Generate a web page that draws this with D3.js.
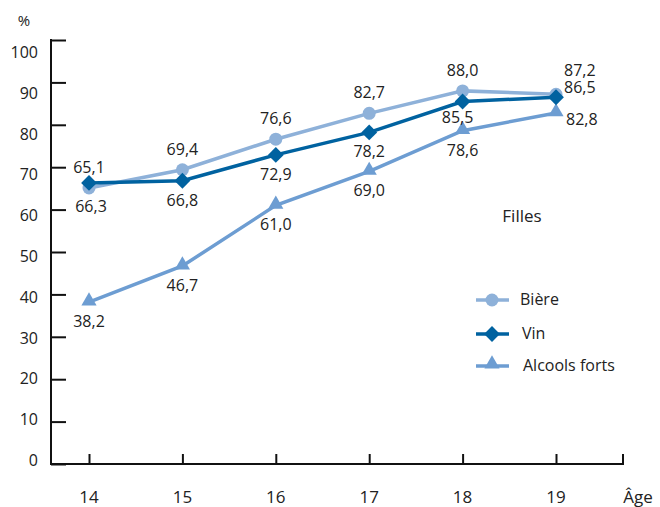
<!DOCTYPE html>
<html><head><meta charset="utf-8">
<script src="https://cdn.jsdelivr.net/npm/d3@7"></script>
<style>body{margin:0;background:#fff}svg{display:block}text{font-family:"Open Sans","Noto Sans",sans-serif;fill:#222}</style>
</head><body><svg id="c" width="660" height="507"></svg>
<script>
const ages = [14, 15, 16, 17, 18, 19];
const biere = [65.1, 69.4, 76.6, 82.7, 88.0, 87.2];
const vin = [66.3, 66.8, 72.9, 78.2, 85.5, 86.5];
const alcools = [38.2, 46.7, 61.0, 69.0, 78.6, 82.8];
const yTicks = [0, 10, 20, 30, 40, 50, 60, 70, 80, 90, 100];
const seriesNames = ["Bière", "Vin", "Alcools forts"];

const svg = d3.select("#c");
const x = d3.scaleLinear().domain([14, 19]).range([89, 556]);
const y = d3.scaleLinear().domain([0, 100]).range([464, 40]);
const yLab = d3.scaleLinear().domain([0, 100]).range([460, 52]);
const fmt = v => d3.format(".1f")(v).replace(".", ",");

// axes
const yAxis = svg.append("g").attr("transform", "translate(51,0)")
  .call(d3.axisRight(y).tickValues(yTicks).tickSize(15).tickFormat(""));
yAxis.select(".domain").remove();
yAxis.selectAll("line").attr("stroke", "#111").attr("stroke-width", 2);
svg.append("line").attr("x1", 51).attr("x2", 51).attr("y1", 39).attr("y2", 465).attr("stroke", "#111").attr("stroke-width", 2);
svg.selectAll(".ylab").data(yTicks).enter().append("text")
  .attr("x", 38).attr("y", d => yLab(d) + 6).attr("text-anchor", "end").attr("font-size", 16).text(d => d);
svg.append("text").attr("x", 24).attr("y", 26).attr("text-anchor", "middle").attr("font-size", 15).text("%");

const xAxis = svg.append("g").attr("transform", "translate(0,464)")
  .call(d3.axisTop(x).tickValues(ages).tickSize(10).tickFormat(""));
xAxis.select(".domain").remove();
xAxis.selectAll("line").attr("stroke", "#111").attr("stroke-width", 2);
svg.append("line").attr("x1", 50).attr("x2", 624).attr("y1", 464).attr("y2", 464).attr("stroke", "#111").attr("stroke-width", 2);
svg.append("line").attr("x1", 623).attr("x2", 623).attr("y1", 454).attr("y2", 465).attr("stroke", "#111").attr("stroke-width", 2);
svg.selectAll(".xlab").data(ages).enter().append("text")
  .attr("x", d => x(d)).attr("y", 503).attr("text-anchor", "middle").attr("font-size", 17).text(d => d);
svg.append("text").attr("x", 638).attr("y", 503).attr("text-anchor", "middle").attr("font-size", 17).text("Âge");

const colors = ["#8eb1d9", "#0062a0", "#6d9dd2"];
const data = [biere, vin, alcools];
const line = d3.line().x((d, i) => x(ages[i])).y(d => y(d));
const tri = d3.symbol().type(d3.symbolTriangle).size(100);
const dia = d3.symbol().type(d3.symbolSquare).size(125);

function marker(s, cx, cy) {
  if (s === 0) svg.append("circle").attr("cx", cx).attr("cy", cy).attr("r", 6.5).attr("fill", colors[s]);
  else if (s === 1) svg.append("path").attr("d", dia).attr("transform", `translate(${cx},${cy}) rotate(45)`).attr("fill", colors[s]);
  else svg.append("path").attr("d", tri).attr("transform", `translate(${cx},${cy - 1})`).attr("fill", colors[s]);
}

// draw order: alcools, biere, vin
[2, 0, 1].forEach(s => {
  svg.append("path").datum(data[s]).attr("d", line).attr("fill", "none")
    .attr("stroke", colors[s]).attr("stroke-width", 3.5);
  data[s].forEach((v, i) => marker(s, x(ages[i]), y(v)));
});

// labels
const labelPos = (s, i) => {
  if (i === 5) return [[8, -24], [8, -10], [10, 6]][s];
  if (s === 0) return [0, -21];
  if (s === 1 && i === 4) return [-5, 16];
  if (s === 1 && i === 0) return [2, 23];
  return [0, 19];
};
[0, 1, 2].forEach(s => {
  data[s].forEach((v, i) => {
    const [dx, dy] = labelPos(s, i);
    svg.append("text").attr("x", x(ages[i]) + dx).attr("y", y(v) + dy + 6)
      .attr("text-anchor", i === 5 ? "start" : "middle").attr("font-size", 16).text(fmt(v));
  });
});

svg.append("text").attr("x", 522).attr("y", 222).attr("text-anchor", "middle").attr("font-size", 17).text("Filles");

// legend
const ly = [300, 334, 366];
seriesNames.forEach((n, s) => {
  svg.append("line").attr("x1", 476).attr("x2", 509).attr("y1", ly[s]).attr("y2", ly[s]).attr("stroke", colors[s]).attr("stroke-width", 3.5);
  marker(s, 492, s === 2 ? ly[s] - 1 : ly[s]);
  svg.append("text").attr("x", s === 0 ? 520 : s === 1 ? 522 : 523).attr("y", ly[s] + 5).attr("font-size", 16).text(n);
});
</script></body></html>
